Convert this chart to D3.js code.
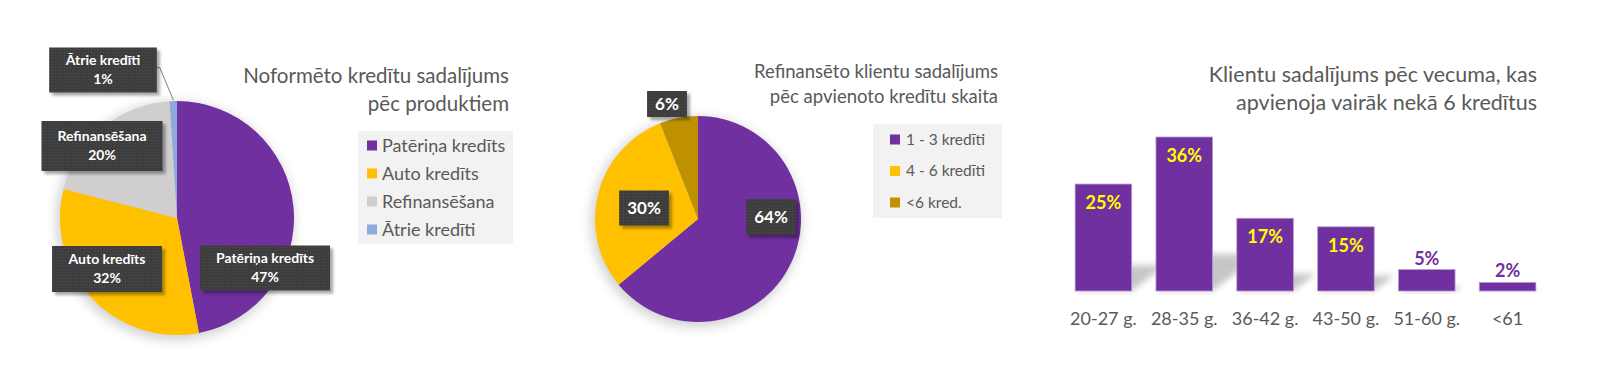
<!DOCTYPE html>
<html>
<head>
<meta charset="utf-8">
<script src="https://cdn.jsdelivr.net/npm/d3@7"></script>
<style>
  body { margin: 0; background: #fff; }
  svg text { font-family: Lato, "Open Sans", sans-serif; }
</style>
</head>
<body>
<div id="chart"></div>
<script>
// data
var productNames = ["Patēriņa kredīts", "Auto kredīts", "Refinansēšana", "Ātrie kredīti"];
var productShares = [47, 32, 20, 1];

var refinNames = ["1 - 3 kredīti", "4 - 6 kredīti", "<6 kred."];
var refinShares = [64, 30, 6];

var ageGroups = ["20-27 g.", "28-35 g.", "36-42 g.", "43-50 g.", "51-60 g.", "<61"];
var ageShares = [25, 36, 17, 15, 5, 2];

var purple = "#7030A0", yellow = "#FFC000", grey = "#D0CECE", lightBlue = "#8EA9DB", gold = "#BF9000";
var textGrey = "#595959";

var svg = d3.select("#chart").append("svg")
  .attr("width", 1600).attr("height", 388);

var defs = svg.append("defs");
var pat = defs.append("pattern").attr("id", "dots")
  .attr("width", 3).attr("height", 3).attr("patternUnits", "userSpaceOnUse");
pat.append("rect").attr("width", 3).attr("height", 3).attr("fill", "#3d3d3d");
pat.append("rect").attr("width", 1).attr("height", 1).attr("fill", "#4d4d4d");

var boxShadow = defs.append("filter").attr("id", "boxShadow")
  .attr("x", "-20%").attr("y", "-20%").attr("width", "150%").attr("height", "160%");
boxShadow.append("feDropShadow").attr("dx", 3).attr("dy", 3).attr("stdDeviation", 1.5)
  .attr("flood-color", "#000").attr("flood-opacity", 0.35);

var pieGlow = defs.append("filter").attr("id", "pieGlow")
  .attr("x", "-30%").attr("y", "-30%").attr("width", "160%").attr("height", "160%");
pieGlow.append("feGaussianBlur").attr("stdDeviation", 6);

var barBlur = defs.append("filter").attr("id", "barBlur")
  .attr("x", "-50%").attr("y", "-50%").attr("width", "200%").attr("height", "200%");
barBlur.append("feGaussianBlur").attr("stdDeviation", 3);

function title(x, y, lines, size, gap) {
  var t = svg.append("text").attr("text-anchor", "end").attr("fill", textGrey)
    .style("font-size", size + "px");
  lines.forEach(function(l, i) {
    t.append("tspan").attr("x", x).attr("y", y + i * gap).text(l);
  });
}

function legend(o, names, colors) {
  var g = svg.append("g").attr("transform", "translate(" + o.x + "," + o.y + ")");
  g.append("rect").attr("width", o.w).attr("height", o.h).attr("fill", "#F2F2F2");
  var top = (o.h - o.step * names.length) / 2;
  var item = g.selectAll(".item").data(names).enter().append("g")
    .attr("transform", function(d, i) { return "translate(0," + (top + o.step * (i + 0.5)) + ")"; });
  item.append("rect").attr("x", o.sq).attr("y", -5).attr("width", 10).attr("height", 10)
    .attr("fill", function(d, i) { return colors[i]; });
  item.append("text").attr("x", o.tx).attr("dy", "0.35em").attr("fill", textGrey)
    .style("font-size", o.font + "px").text(function(d) { return d; });
}

function labelBox(g, cx, cy, lines, size, padX, h) {
  var lg = g.append("g").attr("transform", "translate(" + cx + "," + cy + ")");
  var rect = lg.append("rect").attr("fill", "url(#dots)").attr("filter", "url(#boxShadow)");
  var t = lg.append("text").attr("text-anchor", "middle").attr("fill", "#fff")
    .style("font-size", size + "px").style("font-weight", "bold");
  var lh = size * 1.35;
  lines.forEach(function(l, i) {
    t.append("tspan").attr("x", 0)
      .attr("y", (i - (lines.length - 1) / 2) * lh).attr("dy", "0.35em").text(l);
  });
  var w = t.node().getBBox().width + padX * 2;
  rect.attr("x", -w / 2).attr("y", -h / 2).attr("width", w).attr("height", h);
}

// ---- pie 1: products ----
var pie = d3.pie().sort(null).value(function(d) { return d; });

var p1 = { cx: 177, cy: 218, r: 117 };
var p1Colors = [purple, yellow, grey, lightBlue];
// label box centres relative to pie centre (Excel "best fit"), box height
var p1Labels = [[88, 50, 45], [-70, 51, 46], [-75, -72, 50], [-74, -148, 45]];

var g1 = svg.append("g").attr("transform", "translate(" + p1.cx + "," + p1.cy + ")");
g1.append("circle").attr("r", p1.r + 2).attr("cx", -2).attr("cy", 3).attr("fill", "#000").attr("opacity", 0.18).attr("filter", "url(#pieGlow)");
var arc1 = d3.arc().innerRadius(0).outerRadius(p1.r);
var arcs1 = pie(productShares);
g1.selectAll("path").data(arcs1).enter().append("path")
  .attr("d", arc1).attr("fill", function(d, i) { return p1Colors[i]; });

// leader for the tiny slice
var tinyPt = d3.arc().innerRadius(p1.r).outerRadius(p1.r).centroid(arcs1[3]);
g1.append("polyline")
  .attr("points", [[-21, -151], [-17, -150], [tinyPt[0], tinyPt[1] - 1]].join(" "))
  .attr("fill", "none").attr("stroke", "#7f7f7f").attr("stroke-width", 1);

arcs1.forEach(function(d, i) {
  var L = p1Labels[i];
  labelBox(g1, L[0], L[1], [productNames[i], productShares[i] + "%"], 14, 16, L[2]);
});

title(509, 83, ["Noformēto kredītu sadalījums", "pēc produktiem"], 20.5, 28);
legend({ x: 358, y: 131, w: 155, h: 113, step: 28, sq: 9, tx: 24, font: 18 }, productNames, p1Colors);

// ---- pie 2: refinanced clients ----
var p2 = { cx: 698, cy: 219, r: 103 };
var p2Colors = [purple, yellow, gold];
var p2Labels = [[73, -2, 36], [-54, -11, 35], [-31, -115, 26]];

var g2 = svg.append("g").attr("transform", "translate(" + p2.cx + "," + p2.cy + ")");
g2.append("circle").attr("r", p2.r + 2).attr("cx", -2).attr("cy", 3).attr("fill", "#000").attr("opacity", 0.18).attr("filter", "url(#pieGlow)");
var arc2 = d3.arc().innerRadius(0).outerRadius(p2.r);
var arcs2 = pie(refinShares);
g2.selectAll("path").data(arcs2).enter().append("path")
  .attr("d", arc2).attr("fill", function(d, i) { return p2Colors[i]; });
arcs2.forEach(function(d, i) {
  var L = p2Labels[i];
  labelBox(g2, L[0], L[1], [refinShares[i] + "%"], 17, 8, L[2]);
});

title(998, 78, ["Refinansēto klientu sadalījums", "pēc apvienoto kredītu skaita"], 18.5, 25);
legend({ x: 873, y: 124, w: 129, h: 94, step: 31.5, sq: 17, tx: 33, font: 15.5 }, refinNames, p2Colors);

// ---- bars: age groups ----
var base = 291;
var x = d3.scaleBand().domain(ageGroups).range([1063, 1548]).paddingInner(0.3).paddingOuter(0.15);
var y = d3.scaleLinear().domain([0, 36]).range([base, 137]);

var bars = svg.append("g");
// soft perspective shadow behind the bars
bars.selectAll(".shadow").data(ageShares).enter().append("path")
  .attr("class", "shadow")
  .attr("d", function(d, i) {
    var x0 = x(ageGroups[i]), x1 = x0 + x.bandwidth();
    var hs = (base - y(d)) * 0.24, dx = hs * 1.3;
    return "M" + x0 + "," + base + "L" + x1 + "," + base + "L" + (x1 + dx) + "," + (base - hs) +
      "L" + (x0 + dx) + "," + (base - hs) + "Z";
  })
  .attr("fill", "#000").attr("opacity", 0.22).attr("filter", "url(#barBlur)");

bars.selectAll(".bar").data(ageShares).enter().append("rect")
  .attr("class", "bar")
  .attr("x", function(d, i) { return x(ageGroups[i]); })
  .attr("y", function(d) { return y(d); })
  .attr("width", x.bandwidth())
  .attr("height", function(d) { return base - y(d); })
  .attr("fill", purple).attr("stroke", "#b79bd0").attr("stroke-width", 0.8);

bars.selectAll(".val").data(ageShares).enter().append("text")
  .attr("x", function(d, i) { return x(ageGroups[i]) + x.bandwidth() / 2; })
  .attr("y", function(d) { return d >= 10 ? y(d) + 25 : y(d) - 5; })
  .attr("text-anchor", "middle")
  .attr("fill", function(d) { return d >= 10 ? "#FFFF00" : purple; })
  .style("font-size", "18px").style("font-weight", "bold")
  .text(function(d) { return d + "%"; });

var xAxis = svg.append("g").attr("transform", "translate(0," + base + ")")
  .call(d3.axisBottom(x).tickSize(0).tickPadding(21));
xAxis.select(".domain").remove();
xAxis.selectAll("text").attr("fill", textGrey)
  .style("font-family", "Lato, 'Open Sans', sans-serif").style("font-size", "18px");

title(1537, 82, ["Klientu sadalījums pēc vecuma, kas", "apvienoja vairāk nekā 6 kredītus"], 21.5, 28);
</script>
</body>
</html>
